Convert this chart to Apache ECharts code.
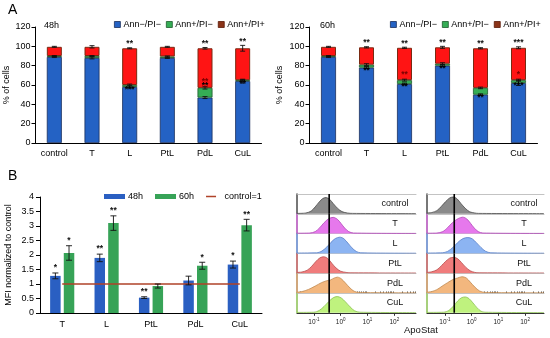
<!DOCTYPE html>
<html><head><meta charset="utf-8">
<script src="https://cdn.jsdelivr.net/npm/echarts@6/dist/echarts.min.js"></script>
<style>html,body{margin:0;padding:0;background:#fff}#c{width:550px;height:338px}</style>
</head><body><div id="c"></div>
<script>
// ---------- Panel A data ----------
const catsA = ['control','T','L','PtL','PdL','CuL'];
const live48  = [89, 88, 58, 88, 47, 64];
const early48 = [1, 2, 2, 1.5, 10, 1];
const late48  = [9.5, 9.5, 38, 10, 41, 33];
const live60  = [89, 78, 61, 80, 50, 62];
const early60 = [1, 3, 4, 2, 7, 3];
const late60  = [9.5, 18, 33.5, 17, 41, 33.5];
const errLive48 = [0.6, 1, 1.2, 0.6, 1, 2];
const errEarly48 = [0.5, 0.5, 1, 0.5, 1.2, 0.6];
const errTop48 = [0.5, 1.2, 0.5, 0.5, 0.8, 3];
const errLive60 = [0.6, 1.2, 1, 1.2, 0.8, 2.5];
const errEarly60 = [0.5, 1, 1, 1, 0.8, 1];
const errTop60 = [0.5, 0.6, 0.6, 1, 0.6, 1];
const starsTop48   = ['', '', '**', '', '**', '**'];
const starsLive48  = ['', '', '***', '', '', '**'];
const starsEarly48 = ['', '', '', '', '**', ''];
const starsLate48  = ['', '', '', '', '**', ''];
const starsTop60   = ['', '**', '**', '**', '**', '***'];
const starsLive60  = ['', '**', '**', '**', '**', '***'];
const starsEarly60 = ['', '', '', '', '', ''];
const starsLate60  = ['', '', '**', '', '', '*'];
const legendA = ['Ann−/PI−', 'Ann+/PI−', 'Ann+/PI+'];

// ---------- Panel B data ----------
const catsB = ['T','L','PtL','PdL','CuL'];
const mfi48 = [1.28, 1.9, 0.53, 1.12, 1.67];
const sd48  = [0.1, 0.13, 0.03, 0.15, 0.12];
const mfi60 = [2.07, 3.1, 0.93, 1.63, 3.03];
const sd60  = [0.25, 0.25, 0.07, 0.12, 0.2];
const control1 = [1, 1, 1, 1, 1];
const starsB48 = ['*', '**', '**', '', '*'];
const starsB60 = ['*', '**', '', '*', '**'];

// ---------- Histogram data (x = log10 ApoStat, y = relative count) ----------
const histNames = ['control','T','L','PtL','PdL','CuL'];
const histLeft = [
  [[-1.63,0.02],[-1.3,0.04],[-1.1,0.14],[-0.95,0.35],[-0.8,0.6],[-0.67,0.77],[-0.55,0.82],[-0.42,0.74],[-0.28,0.52],[-0.12,0.28],[0.05,0.11],[0.25,0.04],[0.45,0.02],[2.81,0.01]],
  [[-1.63,0.02],[-1.15,0.03],[-0.95,0.1],[-0.78,0.3],[-0.62,0.55],[-0.45,0.75],[-0.28,0.82],[-0.12,0.72],[0.02,0.5],[0.15,0.28],[0.3,0.1],[0.48,0.03],[2.81,0.01]],
  [[-1.63,0.02],[-0.9,0.03],[-0.7,0.12],[-0.52,0.32],[-0.36,0.56],[-0.2,0.75],[-0.03,0.82],[0.12,0.74],[0.27,0.52],[0.42,0.28],[0.58,0.1],[0.75,0.03],[2.81,0.01]],
  [[-1.63,0.04],[-1.45,0.06],[-1.25,0.15],[-1.08,0.35],[-0.92,0.6],[-0.77,0.78],[-0.63,0.83],[-0.48,0.74],[-0.33,0.5],[-0.17,0.26],[0.0,0.1],[0.2,0.04],[0.35,0.02],[2.81,0.01]],
  [[-1.63,0.04],[-1.45,0.07],[-1.2,0.18],[-0.95,0.35],[-0.72,0.52],[-0.52,0.62],[-0.38,0.66],[-0.25,0.75],[-0.12,0.8],[0.02,0.72],[0.18,0.5],[0.35,0.25],[0.5,0.09],[0.68,0.03],[2.81,0.01]],
  [[-1.63,0.02],[-1.0,0.03],[-0.8,0.12],[-0.62,0.32],[-0.45,0.56],[-0.28,0.76],[-0.13,0.82],[0.02,0.75],[0.18,0.55],[0.35,0.3],[0.52,0.1],[0.72,0.03],[2.81,0.01]]
];
const histRight = [
  [[-1.67,0.04],[-1.5,0.06],[-1.3,0.16],[-1.13,0.38],[-0.97,0.62],[-0.82,0.8],[-0.68,0.85],[-0.54,0.75],[-0.4,0.52],[-0.24,0.28],[-0.07,0.1],[0.12,0.04],[0.25,0.02],[2.71,0.01]],
  [[-1.67,0.02],[-1.3,0.03],[-1.08,0.1],[-0.9,0.3],[-0.72,0.55],[-0.5,0.76],[-0.33,0.83],[-0.18,0.74],[-0.04,0.52],[0.1,0.28],[0.25,0.1],[0.42,0.03],[2.71,0.01]],
  [[-1.67,0.02],[-1.1,0.03],[-0.9,0.1],[-0.7,0.3],[-0.52,0.55],[-0.32,0.75],[-0.14,0.8],[0.02,0.74],[0.18,0.54],[0.35,0.3],[0.52,0.11],[0.72,0.03],[2.71,0.01]],
  [[-1.67,0.04],[-1.5,0.07],[-1.3,0.17],[-1.13,0.38],[-0.97,0.6],[-0.82,0.76],[-0.68,0.8],[-0.53,0.74],[-0.38,0.54],[-0.22,0.3],[-0.05,0.12],[0.12,0.04],[0.28,0.02],[2.71,0.01]],
  [[-1.67,0.04],[-1.5,0.07],[-1.3,0.17],[-1.1,0.35],[-0.9,0.52],[-0.7,0.68],[-0.52,0.76],[-0.36,0.82],[-0.2,0.76],[-0.05,0.55],[0.12,0.3],[0.3,0.1],[0.5,0.03],[2.71,0.01]],
  [[-1.67,0.02],[-1.05,0.03],[-0.85,0.12],[-0.68,0.34],[-0.52,0.6],[-0.38,0.76],[-0.24,0.8],[-0.1,0.72],[0.05,0.5],[0.2,0.26],[0.35,0.08],[0.5,0.03],[2.71,0.01]]
];
const histCutoffs = [-0.43, -0.65];
const histTicks = [-1, 0, 1, 2];

// ---------- styling ----------
const FONT = 'Liberation Sans, Arial, sans-serif';
const BLUE = '#2462c4', GREEN = '#35ad55', RED = '#ff1414';
const histFill = ['#8a8a8a','#e678ec','#8cb4f2','#f07c7c','#f3b77e','#bff27e'];
const histLine = ['#4a4a4a','#b048b8','#5a80c8','#b85050','#c08a50','#8ac050'];

const chart = echarts.init(document.getElementById('c'), null, {renderer:'canvas'});
const grids = [], xAxes = [], yAxes = [], series = [], graphics = [];

function errRender(offset, cap) {
  return function (params, api) {
    const x = api.value(0), y = api.value(1), e = api.value(2);
    const t = api.coord([x, y + e]), b = api.coord([x, y - e]);
    const cx = t[0] + offset;
    const st = {stroke:'#111', lineWidth:0.9};
    return {type:'group', children:[
      {type:'line', shape:{x1:cx, y1:t[1], x2:cx, y2:b[1]}, style:st},
      {type:'line', shape:{x1:cx-cap, y1:t[1], x2:cx+cap, y2:t[1]}, style:st},
      {type:'line', shape:{x1:cx-cap, y1:b[1], x2:cx+cap, y2:b[1]}, style:st}
    ]};
  };
}
function starSeries(list, xi, yi, offset, dy) {
  return {type:'custom', xAxisIndex:xi, yAxisIndex:yi, z:10, silent:true, clip:false,
    data:list.map(s => [s.x, s.y]),
    renderItem:function (params, api) {
      const s = list[params.dataIndex];
      const p = api.coord([api.value(0), api.value(1)]);
      return {type:'text', x:p[0] + offset, y:p[1] + dy, z2:10,
        style:{text:s.text, fill:s.color, font:'bold 8.5px ' + FONT, align:'center', verticalAlign:'middle'}};
    }};
}

// ---------- Panel A ----------
const gA = [{left:35.5, top:27, width:226, height:116}, {left:309.5, top:27, width:228, height:116}];
const setsA = [
  {live:live48, early:early48, late:late48, eL:errLive48, eE:errEarly48, eT:errTop48, sT:starsTop48, sL:starsLive48, sE:starsEarly48, sLa:starsLate48},
  {live:live60, early:early60, late:late60, eL:errLive60, eE:errEarly60, eT:errTop60, sT:starsTop60, sL:starsLive60, sE:starsEarly60, sLa:starsLate60}
];
gA.forEach((g, i) => {
  grids.push(g);
  const S = setsA[i];
  xAxes.push({type:'category', gridIndex:i, data:catsA, boundaryGap:true,
    axisLine:{lineStyle:{color:'#000', width:1}}, axisTick:{length:4, lineStyle:{color:'#000'}},
    axisLabel:{color:'#000', fontSize:9, fontFamily:FONT, margin:6}});
  yAxes.push({type:'value', gridIndex:i, min:0, max:120, interval:20,
    name:'% of cells', nameLocation:'middle', nameGap:i===0?24:25, nameRotate:90,
    nameTextStyle:{color:'#000', fontSize:9, fontFamily:FONT},
    axisLine:{show:true, lineStyle:{color:'#000'}}, axisTick:{show:true, length:4, lineStyle:{color:'#000'}},
    splitLine:{show:false}, axisLabel:{color:'#000', fontSize:9, fontFamily:FONT, margin:5}});
  const stack = 'A' + i;
  const common = {type:'bar', xAxisIndex:i, yAxisIndex:i, stack, barWidth:15};
  series.push(Object.assign({}, common, {name:legendA[0], data:S.live, itemStyle:{color:BLUE, borderColor:'#1b2e5c', borderWidth:0.8}}));
  series.push(Object.assign({}, common, {name:legendA[1], data:S.early, itemStyle:{color:GREEN, borderColor:'#1d5a2c', borderWidth:0.8}}));
  series.push(Object.assign({}, common, {name:legendA[2], data:S.late, itemStyle:{color:RED, borderColor:'#7a2a12', borderWidth:1}}));
  const errs = [], stars = [];
  catsA.forEach((c, k) => {
    const lv = S.live[k], ea = lv + S.early[k], tot = ea + S.late[k];
    errs.push([k, lv, S.eL[k]]);
    errs.push([k, ea, S.eE[k]]);
    errs.push([k, tot, S.eT[k]]);
    if (S.sT[k]) stars.push({x:k, y:tot + S.eT[k], text:S.sT[k], color:'#111'});
    if (S.sL[k]) stars.push({x:k, y:lv - 7, text:S.sL[k], color:'#000'});
    if (S.sE[k]) stars.push({x:k, y:lv + S.early[k] / 2 + 3, text:S.sE[k], color:'#000'});
    if (S.sLa[k]) stars.push({x:k, y:ea + 2, text:S.sLa[k], color:'#7a0000'});
  });
  series.push({type:'custom', xAxisIndex:i, yAxisIndex:i, renderItem:errRender(0, 2.5), data:errs, z:5, silent:true});
  series.push(starSeries(stars, i, i, 0, -4));
});

// ---------- Panel B ----------
grids.push({left:40, top:197, width:222, height:116});
xAxes.push({type:'category', gridIndex:2, data:catsB, boundaryGap:true,
  axisLine:{lineStyle:{color:'#000'}}, axisTick:{length:4, lineStyle:{color:'#000'}},
  axisLabel:{color:'#000', fontSize:9, fontFamily:FONT, margin:7}});
yAxes.push({type:'value', gridIndex:2, min:0, max:4, interval:0.5,
  name:'MFI normalized to control', nameLocation:'middle', nameGap:27, nameRotate:90,
  nameTextStyle:{color:'#000', fontSize:9, fontFamily:FONT},
  axisLine:{show:true, lineStyle:{color:'#000'}}, axisTick:{show:true, length:4, lineStyle:{color:'#000'}},
  splitLine:{show:false}, axisLabel:{color:'#000', fontSize:9, fontFamily:FONT, margin:6}});
const BW = 10.5, BG = 0.3, OFF = (BW + BW * BG) / 2;
series.push({type:'bar', name:'48h', xAxisIndex:2, yAxisIndex:2, data:mfi48, barWidth:BW, barGap:'30%', itemStyle:{color:'#2a5fc2'}});
series.push({type:'bar', name:'60h', xAxisIndex:2, yAxisIndex:2, data:mfi60, barWidth:BW, barGap:'30%', itemStyle:{color:'#37a357'}});
series.push({type:'line', name:'control=1', xAxisIndex:2, yAxisIndex:2, data:control1, symbol:'none', showSymbol:false, lineStyle:{color:'#b0432a', width:1.5}, itemStyle:{color:'#b0432a'}, z:4});
series.push({type:'custom', xAxisIndex:2, yAxisIndex:2, renderItem:errRender(-OFF, 3), data:catsB.map((c, k) => [k, mfi48[k], sd48[k]]), z:5, silent:true});
series.push({type:'custom', xAxisIndex:2, yAxisIndex:2, renderItem:errRender(OFF, 3), data:catsB.map((c, k) => [k, mfi60[k], sd60[k]]), z:5, silent:true});
series.push(starSeries(catsB.map((c, k) => ({x:k, y:mfi48[k] + sd48[k], text:starsB48[k], color:'#111'})).filter(s => s.text), 2, 2, -OFF, -5));
series.push(starSeries(catsB.map((c, k) => ({x:k, y:mfi60[k] + sd60[k], text:starsB60[k], color:'#111'})).filter(s => s.text), 2, 2, OFF, -5));

// ---------- Histograms ----------
const histPanels = [
  {left:297, width:119, min:-1.63, max:2.81, data:histLeft, cut:histCutoffs[0], labelX:395},
  {left:427, width:117, min:-1.67, max:2.71, data:histRight, cut:histCutoffs[1], labelX:524}
];
const HTOP = 194, RH = 19.8;
const minorVals = [];
[-2, -1, 0, 1, 2].forEach(d => { for (let k = 2; k <= 9; k++) minorVals.push(d + Math.log10(k)); });
const supFmt = v => '{b|10}{s|' + Math.round(v) + '}';
const supRich = {b:{fontSize:6.5, fontFamily:FONT, color:'#222'}, s:{fontSize:4.5, fontFamily:FONT, color:'#222', padding:[0,0,5,0]}};
histPanels.forEach((P, pi) => {
  P.data.forEach((curve, r) => {
    const gi = grids.length;
    grids.push({left:P.left, top:HTOP + r * RH, width:P.width, height:RH});
    const last = r === 5;
    xAxes.push({type:'value', gridIndex:gi, min:P.min, max:P.max,
      axisLine:{show:true, onZero:false, lineStyle:{color:last ? '#333' : '#b4b4b4', width:last ? 1 : 0.8}},
      axisTick:{show:last, customValues:histTicks, length:3, lineStyle:{color:'#333'}},
      axisLabel:{show:last, customValues:histTicks, formatter:supFmt, rich:supRich, margin:4},
      splitLine:{show:false}});
    const xi = xAxes.length - 1;
    yAxes.push({type:'value', gridIndex:gi, min:0, max:1,
      axisLine:{show:true, onZero:false, lineStyle:{color:histLine[r], width:1.5}}, axisTick:{show:false}, axisLabel:{show:false}, splitLine:{show:false}});
    const yi = yAxes.length - 1;
    series.push({type:'line', xAxisIndex:xi, yAxisIndex:yi, data:curve, smooth:0.3, symbol:'none',
      lineStyle:{color:histLine[r], width:0.8}, areaStyle:{color:histFill[r], opacity:1}, silent:true});
    series.push({type:'line', xAxisIndex:xi, yAxisIndex:yi, data:[[P.cut, 0], [P.cut, 1]], symbol:'none', silent:true, z:8,
      lineStyle:{color:'#000', width:1.6, opacity:1}});
    graphics.push({type:'text', x:P.labelX, y:HTOP + r * RH + RH / 2,
      style:{text:histNames[r], fill:'#111', font:'9px ' + FONT, align:'center', verticalAlign:'middle'}});
    if (last) {
      xAxes.push({type:'value', gridIndex:gi, min:P.min, max:P.max, axisLine:{show:false, onZero:false},
        axisTick:{show:true, customValues:minorVals.filter(v => v > P.min && v < P.max), length:1.5, lineStyle:{color:'#555'}},
        axisLabel:{show:false}, splitLine:{show:false}});
    }
    if (r === 0) {
      xAxes.push({type:'value', gridIndex:gi, position:'top', min:P.min, max:P.max,
        axisLine:{show:true, onZero:false, lineStyle:{color:'#b4b4b4', width:0.8}}, axisTick:{show:false}, axisLabel:{show:false}, splitLine:{show:false}});
    }
  });
});

graphics.push({type:'text', left:8, top:3, style:{text:'A', fill:'#000', font:'14px ' + FONT}});
graphics.push({type:'text', left:8, top:169, style:{text:'B', fill:'#000', font:'14px ' + FONT}});
graphics.push({type:'text', left:44, top:21, style:{text:'48h', fill:'#000', font:'9px ' + FONT}});
graphics.push({type:'text', left:320, top:21, style:{text:'60h', fill:'#000', font:'9px ' + FONT}});
graphics.push({type:'text', left:404, top:325, style:{text:'ApoStat', fill:'#111', font:'9.5px ' + FONT}});

const legItemsA = [
  {name:legendA[0], itemStyle:{color:BLUE, borderColor:'#1b2e5c', borderWidth:0.8}},
  {name:legendA[1], itemStyle:{color:GREEN, borderColor:'#1d5a2c', borderWidth:0.8}},
  {name:legendA[2], itemStyle:{color:'#8b3418', borderColor:'#5a1a08', borderWidth:0.8}}
];
const legendCommon = {icon:'rect', itemWidth:6, itemHeight:6, itemGap:5, padding:0, width:240, selectedMode:false,
  textStyle:{fontSize:9, fontFamily:FONT, color:'#000', padding:[0,0,0,-2]}};

chart.setOption({
  animation:false,
  textStyle:{fontFamily:FONT},
  grid:grids, xAxis:xAxes, yAxis:yAxes, series,
  graphic:graphics,
  legend:[
    Object.assign({}, legendCommon, {left:114, top:20, data:legItemsA}),
    Object.assign({}, legendCommon, {left:390, top:20, data:legItemsA}),
    {left:104, top:192, itemWidth:21, itemHeight:5, itemGap:12, padding:0, width:200, selectedMode:false,
     textStyle:{fontSize:9, fontFamily:FONT, color:'#000', padding:[0,0,0,-2]},
     data:[{name:'48h', icon:'rect'}, {name:'60h', icon:'rect'},
           {name:'control=1', icon:'path://M0 0 H0.01 V10 H0 Z M0 3.5 H20 V6.5 H0 Z', itemStyle:{color:'#b0432a'}}]}
  ]
});
</script></body></html>
